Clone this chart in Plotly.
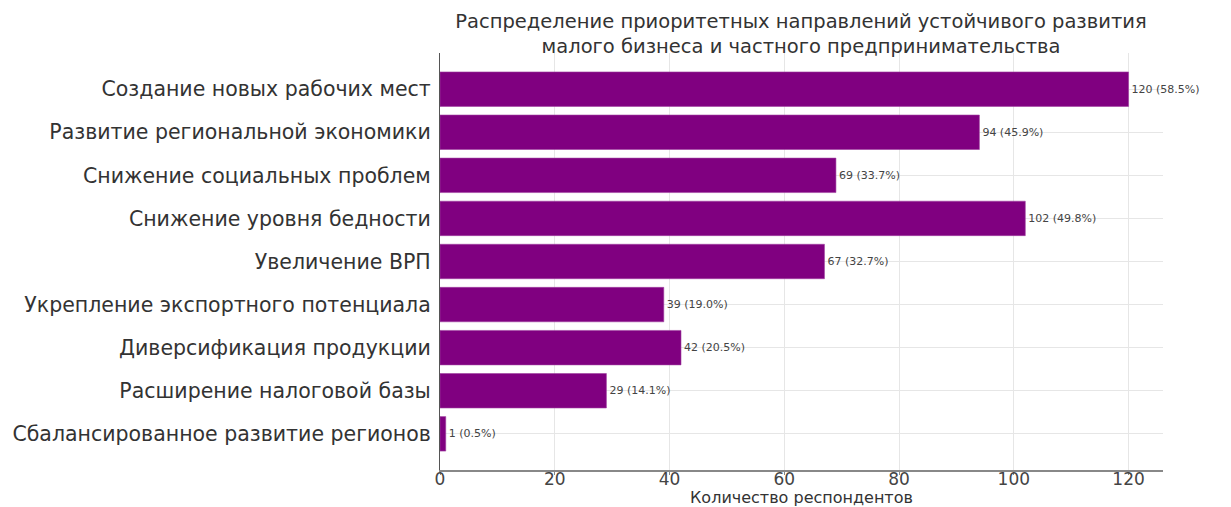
import plotly.graph_objects as go

categories = [
    "Создание новых рабочих мест",
    "Развитие региональной экономики",
    "Снижение социальных проблем",
    "Снижение уровня бедности",
    "Увеличение ВРП",
    "Укрепление экспортного потенциала",
    "Диверсификация продукции",
    "Расширение налоговой базы",
    "Сбалансированное развитие регионов",
]
counts = [120, 94, 69, 102, 67, 39, 42, 29, 1]
percents = [58.5, 45.9, 33.7, 49.8, 32.7, 19.0, 20.5, 14.1, 0.5]
x_ticks = [0, 20, 40, 60, 80, 100, 120]

labels = [f"{c} ({p:.1f}%)" for c, p in zip(counts, percents)]

fig = go.Figure()
fig.add_trace(go.Bar(
    x=counts,
    y=categories,
    orientation="h",
    width=0.8,
    marker=dict(color="#800080", line=dict(color="#a040a0", width=0.6)),
    text=labels,
    textposition="outside",
    textfont=dict(family="DejaVu Sans", size=11, color="#444444"),
    constraintext="none",
    cliponaxis=False,
))

fig.update_layout(
    width=1231,
    height=507,
    paper_bgcolor="white",
    plot_bgcolor="white",
    margin=dict(l=440, r=68, t=53, b=37),
    showlegend=False,
    title=dict(
        text="Распределение приоритетных направлений устойчивого развития<br>малого бизнеса и частного предпринимательства",
        x=801 / 1231,
        xanchor="center",
        yref="container",
        y=1 - 28 / 507,
        yanchor="middle",
        font=dict(family="DejaVu Sans", size=19.5, color="#333333"),
    ),
    bargap=0.2,
    annotations=[dict(
        text="Количество респондентов",
        xref="paper", yref="paper", x=0.5, y=0,
        xanchor="center", yanchor="middle", yshift=-27,
        showarrow=False,
        font=dict(family="DejaVu Sans", size=16, color="#333333"),
    )],
)
fig.update_xaxes(
    range=[0, 126],
    automargin=False,
    tickvals=x_ticks,
    ticktext=[str(t) for t in x_ticks],
    tickfont=dict(family="DejaVu Sans", size=17, color="#444444"),
    showgrid=True,
    gridcolor="#e6e6e6",
    gridwidth=1,
    showline=True,
    linecolor="#888888",
    linewidth=1.5,
    ticks="outside",
    ticklen=3,
    tickcolor="#888888",
    ticklabelstandoff=-10,
    zeroline=False,
)
fig.update_yaxes(
    automargin=False,
    categoryorder="array",
    categoryarray=categories,
    range=[8.84, -0.84],
    tickfont=dict(family="DejaVu Sans", size=20.5, color="#333333"),
    showgrid=True,
    gridcolor="#e6e6e6",
    gridwidth=1,
    showline=True,
    linecolor="#555555",
    linewidth=1.2,
    ticks="",
    ticklabelstandoff=4,
    zeroline=False,
)

fig.write_html(
    "out.html",
    config={"displayModeBar": False},
    post_script="document.body.style.margin='0';document.body.style.overflow='hidden';",
)
